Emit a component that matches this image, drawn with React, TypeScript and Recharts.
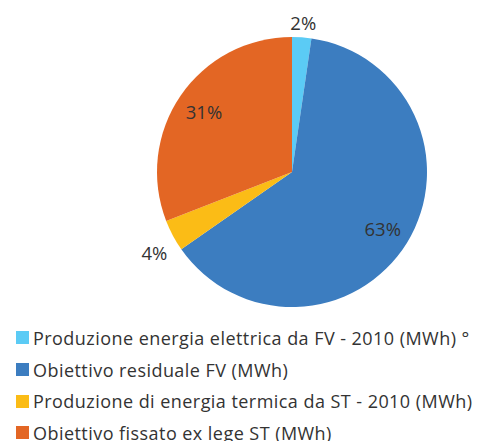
import { Cell, Legend, Pie, PieChart } from "recharts";

const categories = [
  "Produzione energia elettrica da FV - 2010 (MWh) °",
  "Obiettivo residuale FV (MWh)",
  "Produzione di energia termica da ST - 2010 (MWh)",
  "Obiettivo fissato ex lege ST (MWh)",
];
const shares = [2.3, 63.0, 3.8, 30.9];
const colors = ["#5BCBF5", "#3C7DC0", "#FBBC16", "#E36624"];

const data = categories.map((name, i) => ({ name, value: shares[i] }));

const FONT = "'Open Sans', Lato, sans-serif";
const RAD = Math.PI / 180;

// Inside labels for big slices, outside (Excel "best fit") for small ones.
function renderLabel(props: any) {
  const { cx, cy, midAngle, outerRadius, percent } = props;
  const cos = Math.cos(-midAngle * RAD);
  const sin = Math.sin(-midAngle * RAD);
  let x: number;
  let y: number;
  if (percent < 0.1) {
    const r = outerRadius + 8;
    x = cx + r * cos + cos * 13;
    // Excel pushes labels under the pie a bit further down
    y = cy + r * sin + sin * 7 + Math.max(0, sin) * 22;
  } else {
    const r = outerRadius * 0.79;
    x = cx + r * cos;
    y = cy + r * sin;
  }
  return (
    <text
      x={x}
      y={y}
      textAnchor="middle"
      dominantBaseline="central"
      fill="#333"
      fontSize={18.5}
      fontFamily={FONT}
    >
      {`${Math.round(percent * 100)}%`}
    </text>
  );
}

function LegendList() {
  return (
    <div style={{ fontFamily: FONT, fontSize: 18, letterSpacing: 0.45, color: "#333" }}>
      {data.map((d, i) => (
        <div
          key={d.name}
          style={{ display: "flex", alignItems: "center", height: 31.7, whiteSpace: "nowrap" }}
        >
          <span
            style={{
              display: "inline-block",
              width: 13,
              height: 13,
              background: colors[i],
              marginRight: 4,
            }}
          />
          <span>{d.name}</span>
        </div>
      ))}
    </div>
  );
}

export default function App() {
  return (
    <div style={{ position: "absolute", left: 0, top: 0, width: 478, height: 441, background: "#fff" }}>
      <PieChart width={478} height={441} margin={{ top: 0, right: 0, bottom: 0, left: 0 }}>
        <Pie
          data={data}
          dataKey="value"
          nameKey="name"
          cx={292}
          cy={172}
          outerRadius={135}
          startAngle={90}
          endAngle={-270}
          stroke="none"
          labelLine={false}
          label={renderLabel}
          isAnimationActive={false}
        >
          {data.map((d, i) => (
            <Cell key={d.name} fill={colors[i]} />
          ))}
        </Pie>
        <Legend
          content={() => <LegendList />}
          wrapperStyle={{ position: "absolute", left: 16, top: 322, width: 470 }}
        />
      </PieChart>
    </div>
  );
}
